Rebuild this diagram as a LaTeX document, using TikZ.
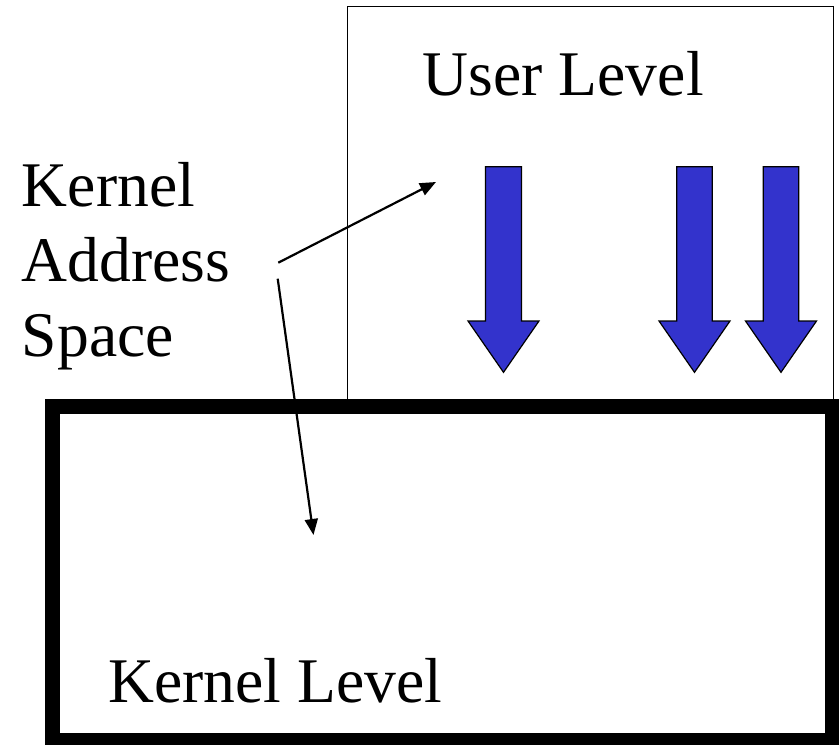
\documentclass[tikz,border=0pt]{standalone}
\usepackage{fontspec}
\setmainfont{Liberation Serif}
\usetikzlibrary{arrows.meta}
\definecolor{arrowblue}{RGB}{51,51,204}
\tikzset{
  lbl/.style={anchor=base west, inner sep=0pt, font=\fontsize{63.6}{75}\selectfont},
  pointer/.style={line width=2.2pt, -{Triangle[length=16pt,width=13pt]}},
  blockarrow/.style={fill=arrowblue, draw=black, line width=1.2pt, line join=miter},
}
\begin{document}
\begin{tikzpicture}[x=1pt,y=-1pt]
\useasboundingbox (0,0) rectangle (839,745);
\fill[white] (0,0) rectangle (839,745);
% user level box
\draw[line width=1.5pt] (347.3,406) -- (347.3,6.7) -- (833.3,6.7) -- (833.3,406);
% kernel level box
\draw[line width=14.5pt] (52.5,406.5) rectangle (832,740);
% texts
\node[lbl] (user) at (422.7,95) {User Level};
\node[lbl] (kernel) at (108,702.7) {Kernel Level};
\node[lbl] (k1) at (21.7,206) {Kernel};
\node[lbl] (k2) at (21.7,281) {Address};
\node[lbl] (k3) at (21.7,356.7) {Space};
% pointer arrows
\coordinate (s1) at (278.3,262.7);
\coordinate (t1) at (436,182);
\coordinate (s2) at (277.7,278.7);
\coordinate (t2) at (313.5,535);
\draw[pointer] (s1) -- (t1);
\draw[pointer] (s2) -- (t2);
% blue block arrows
\foreach \c/\w/\h in {503.5/18/35.5, 694.5/17.8/35.5, 781/17.8/35.5}{
  \draw[blockarrow] (\c-\w,166.7) -- (\c+\w,166.7) -- (\c+\w,321) -- (\c+\h,321)
    -- (\c,372.3) -- (\c-\h,321) -- (\c-\w,321) -- cycle;
}
\end{tikzpicture}
\end{document}
